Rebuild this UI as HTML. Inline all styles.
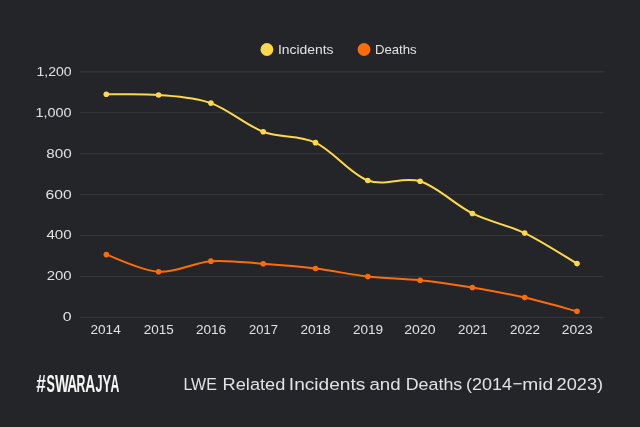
<!DOCTYPE html>
<html><head><meta charset="utf-8"><style>html,body{margin:0;padding:0;background:#242529;width:640px;height:427px;overflow:hidden}svg{display:block;will-change:transform}</style></head>
<body><svg width="640" height="427" viewBox="0 0 640 427">
<rect width="640" height="427" fill="#242529"/>
<rect x="80" y="71.20" width="523.4" height="1.2" fill="#35363a"/><rect x="80" y="112.15" width="523.4" height="1.2" fill="#35363a"/><rect x="80" y="153.09" width="523.4" height="1.2" fill="#35363a"/><rect x="80" y="194.03" width="523.4" height="1.2" fill="#35363a"/><rect x="80" y="234.98" width="523.4" height="1.2" fill="#35363a"/><rect x="80" y="275.92" width="523.4" height="1.2" fill="#35363a"/><rect x="80" y="316.87" width="523.4" height="1.2" fill="#35363a"/>
<g font-family="Liberation Sans, sans-serif" fill="#e2e2e2"><text x="36.43" y="75.70" font-size="13.5" textLength="35.22" lengthAdjust="spacingAndGlyphs">1,200</text><text x="35.40" y="116.65" font-size="13.5" textLength="36.27" lengthAdjust="spacingAndGlyphs">1,000</text><text x="46.24" y="157.59" font-size="13.5" textLength="25.46" lengthAdjust="spacingAndGlyphs">800</text><text x="45.61" y="198.53" font-size="13.5" textLength="26.11" lengthAdjust="spacingAndGlyphs">600</text><text x="46.45" y="239.48" font-size="13.5" textLength="25.24" lengthAdjust="spacingAndGlyphs">400</text><text x="46.75" y="280.42" font-size="13.5" textLength="24.94" lengthAdjust="spacingAndGlyphs">200</text><text x="62.88" y="321.37" font-size="13.5" textLength="8.84" lengthAdjust="spacingAndGlyphs">0</text><text x="90.57" y="334.00" font-size="13.5" textLength="30.13" lengthAdjust="spacingAndGlyphs">2014</text><text x="143.72" y="334.00" font-size="13.5" textLength="29.94" lengthAdjust="spacingAndGlyphs">2015</text><text x="195.92" y="334.00" font-size="13.5" textLength="30.28" lengthAdjust="spacingAndGlyphs">2016</text><text x="249.05" y="334.00" font-size="13.5" textLength="28.80" lengthAdjust="spacingAndGlyphs">2017</text><text x="300.57" y="334.00" font-size="13.5" textLength="30.01" lengthAdjust="spacingAndGlyphs">2018</text><text x="353.07" y="334.00" font-size="13.5" textLength="30.07" lengthAdjust="spacingAndGlyphs">2019</text><text x="404.29" y="334.00" font-size="13.5" textLength="31.26" lengthAdjust="spacingAndGlyphs">2020</text><text x="458.08" y="334.00" font-size="13.5" textLength="29.57" lengthAdjust="spacingAndGlyphs">2021</text><text x="510.08" y="334.00" font-size="13.5" textLength="29.85" lengthAdjust="spacingAndGlyphs">2022</text><text x="561.80" y="334.00" font-size="13.5" textLength="30.80" lengthAdjust="spacingAndGlyphs">2023</text></g>
<path d="M106.30,254.60C115.02,257.47 141.17,270.71 158.60,271.80C176.03,272.89 193.47,262.49 210.90,261.16C228.33,259.82 245.77,262.59 263.20,263.82C280.63,265.04 298.07,266.41 315.50,268.52C332.93,270.64 350.37,274.56 367.80,276.51C385.23,278.45 402.67,278.35 420.10,280.19C437.53,282.04 454.97,284.66 472.40,287.56C489.83,290.46 507.27,293.64 524.70,297.59C542.13,301.55 568.28,309.02 577.00,311.31" fill="none" stroke="#fd6c08" stroke-width="2"/>
<circle cx="106.30" cy="254.60" r="2.8" fill="#fd6c08"/><circle cx="158.60" cy="271.80" r="2.8" fill="#fd6c08"/><circle cx="210.90" cy="261.16" r="2.8" fill="#fd6c08"/><circle cx="263.20" cy="263.82" r="2.8" fill="#fd6c08"/><circle cx="315.50" cy="268.52" r="2.8" fill="#fd6c08"/><circle cx="367.80" cy="276.51" r="2.8" fill="#fd6c08"/><circle cx="420.10" cy="280.19" r="2.8" fill="#fd6c08"/><circle cx="472.40" cy="287.56" r="2.8" fill="#fd6c08"/><circle cx="524.70" cy="297.59" r="2.8" fill="#fd6c08"/><circle cx="577.00" cy="311.31" r="2.8" fill="#fd6c08"/>
<path d="M106.30,94.32C115.02,94.42 141.17,93.46 158.60,94.93C176.03,96.40 193.47,96.98 210.90,103.12C228.33,109.26 245.77,125.19 263.20,131.78C280.63,138.36 298.07,134.51 315.50,142.63C332.93,150.75 350.37,174.05 367.80,180.50C385.23,186.95 402.67,175.83 420.10,181.32C437.53,186.81 454.97,204.83 472.40,213.46C489.83,222.09 507.27,224.75 524.70,233.11C542.13,241.47 568.28,258.53 577.00,263.61" fill="none" stroke="#fdd84a" stroke-width="2"/>
<circle cx="106.30" cy="94.32" r="2.8" fill="#fdd84a"/><circle cx="158.60" cy="94.93" r="2.8" fill="#fdd84a"/><circle cx="210.90" cy="103.12" r="2.8" fill="#fdd84a"/><circle cx="263.20" cy="131.78" r="2.8" fill="#fdd84a"/><circle cx="315.50" cy="142.63" r="2.8" fill="#fdd84a"/><circle cx="367.80" cy="180.50" r="2.8" fill="#fdd84a"/><circle cx="420.10" cy="181.32" r="2.8" fill="#fdd84a"/><circle cx="472.40" cy="213.46" r="2.8" fill="#fdd84a"/><circle cx="524.70" cy="233.11" r="2.8" fill="#fdd84a"/><circle cx="577.00" cy="263.61" r="2.8" fill="#fdd84a"/>
<circle cx="266.9" cy="49.5" r="6.4" fill="#fdd84a"/>
<circle cx="364" cy="49.5" r="6.4" fill="#fd6c08"/>
<g font-family="Liberation Sans, sans-serif" fill="#e2e2e2">
<text x="277.92" y="54.20" font-size="13.2" textLength="55.58" lengthAdjust="spacingAndGlyphs">Incidents</text>
<text x="374.92" y="54.20" font-size="13.2" textLength="41.76" lengthAdjust="spacingAndGlyphs">Deaths</text>
</g>
<g font-family="Liberation Sans, sans-serif" fill="#f5f5f5"><text x="36.31" y="391.50" font-size="23.1" font-weight="bold" textLength="9.57" lengthAdjust="spacingAndGlyphs">#</text><text x="46.54" y="391.50" font-size="23.1" font-weight="bold" textLength="8.35" lengthAdjust="spacingAndGlyphs">S</text><text x="54.99" y="391.50" font-size="23.1" font-weight="bold" textLength="13.93" lengthAdjust="spacingAndGlyphs">W</text><text x="67.16" y="391.50" font-size="23.1" font-weight="bold" textLength="9.90" lengthAdjust="spacingAndGlyphs">A</text><text x="76.48" y="391.50" font-size="23.1" font-weight="bold" textLength="8.87" lengthAdjust="spacingAndGlyphs">R</text><text x="85.15" y="391.50" font-size="23.1" font-weight="bold" textLength="10.01" lengthAdjust="spacingAndGlyphs">A</text><text x="95.41" y="391.50" font-size="23.1" font-weight="bold" textLength="7.06" lengthAdjust="spacingAndGlyphs">J</text><text x="102.48" y="391.50" font-size="23.1" font-weight="bold" textLength="8.63" lengthAdjust="spacingAndGlyphs">Y</text><text x="110.40" y="391.50" font-size="23.1" font-weight="bold" textLength="8.83" lengthAdjust="spacingAndGlyphs">A</text></g>
<g font-family="Liberation Sans, sans-serif" fill="#e2e2e2"><text x="183.43" y="390.00" font-size="17.4" textLength="33.43" lengthAdjust="spacingAndGlyphs">LWE</text><text x="222.61" y="390.00" font-size="17.4" textLength="62.66" lengthAdjust="spacingAndGlyphs">Related</text><text x="288.83" y="390.00" font-size="17.4" textLength="76.56" lengthAdjust="spacingAndGlyphs">Incidents</text><text x="369.51" y="390.00" font-size="17.4" textLength="31.09" lengthAdjust="spacingAndGlyphs">and</text><text x="405.74" y="390.00" font-size="17.4" textLength="56.51" lengthAdjust="spacingAndGlyphs">Deaths</text><text x="466.09" y="390.00" font-size="17.4" textLength="45.94" lengthAdjust="spacingAndGlyphs">(2014</text><text x="522.23" y="390.00" font-size="17.4" textLength="30.91" lengthAdjust="spacingAndGlyphs">mid</text><text x="556.58" y="390.00" font-size="17.4" textLength="46.54" lengthAdjust="spacingAndGlyphs">2023)</text><rect x="513.3" y="383.1" width="8.4" height="1.3"/></g>
</svg></body></html>
